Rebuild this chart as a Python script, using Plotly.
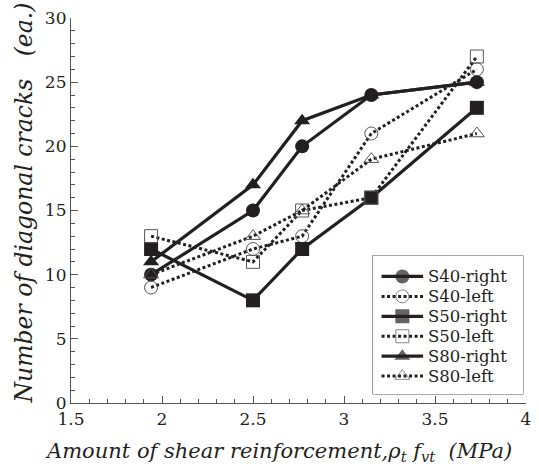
import plotly.graph_objects as go

# Shear reinforcement amount rho_t * f_vt (MPa) for each specimen group
x_vals = [1.94, 2.5, 2.77, 3.15, 3.73]

# Number of diagonal cracks counted on each side of the specimens
s40_right = [10, 15, 20, 24, 25]
s40_left = [9, 12, 13, 21, 26]
s50_right = [12, 8, 12, 16, 23]
s50_left = [13, 11, 15, 16, 27]
s80_right = [11, 17, 22, 24, 25]
s80_left = [10, 13, 15, 19, 21]

names = ["S40-right", "S40-left", "S50-right", "S50-left", "S80-right", "S80-left"]
series = [s40_right, s40_left, s50_right, s50_left, s80_right, s80_left]
symbols = ["circle", "circle-open", "square", "square-open", "triangle-up", "triangle-up-open"]
solid = [True, False, True, False, True, False]

INK = "#231f20"
GREY = "#555555"
FONT = "DejaVu Serif"


def styles(sym, is_solid):
    if is_solid:
        line = dict(color=INK, width=3.2, dash="solid")
        marker = dict(symbol=sym, size=14, color=INK, line=dict(width=0))
    else:
        line = dict(color=INK, width=3, dash="3px,2.5px")
        marker = dict(symbol=sym, size=13, color=GREY, line=dict(width=1, color=GREY))
    return line, marker


fig = go.Figure()
for name, ys, sym, is_solid in zip(names, series, symbols, solid):
    line, marker = styles(sym, is_solid)
    fig.add_trace(go.Scatter(x=x_vals, y=ys, name=name, mode="lines+markers",
                             line=line, marker=marker, showlegend=False))

# Legend box drawn on its own small axes: one row per series
LEG_X = [9, 30, 51]          # sample line start, marker, line end
for i, (name, sym, is_solid) in enumerate(zip(names, symbols, solid)):
    line, marker = styles(sym, is_solid)
    marker = dict(marker)
    marker["size"] = [0, marker["size"], 0]
    row = 21 + 20 * i
    fig.add_trace(go.Scatter(x=LEG_X, y=[row] * 3, mode="lines+markers",
                             line=line, marker=marker, xaxis="x2", yaxis="y2",
                             showlegend=False, hoverinfo="skip"))
    fig.add_annotation(x=54, y=row, xref="x2", yref="y2", text=name,
                       showarrow=False, xanchor="left", yanchor="middle",
                       font=dict(family=FONT, size=16.5, color=INK))

fig.add_shape(type="rect", xref="x2 domain", yref="y2 domain",
              x0=0, x1=1, y0=0, y1=1, line=dict(color=GREY, width=1),
              fillcolor="white", layer="below")

# Axis titles
fig.add_annotation(
    text="<i>Amount of shear reinforcement,ρ<sub>t</sub> f<sub>vt</sub>  (MPa)</i>",
    xref="paper", yref="paper", x=0.4565, y=-0.088, xanchor="center", yanchor="top",
    showarrow=False, font=dict(family=FONT, size=21, color=INK))
fig.add_annotation(
    text="<i>Number of diagonal cracks   (ea.)</i>", textangle=-90,
    xref="paper", yref="paper", x=-0.104, y=0.52, xanchor="center", yanchor="middle",
    showarrow=False, font=dict(family=FONT, size=23.5, color=INK))

axis_common = dict(
    showline=True, linecolor=GREY, linewidth=1.2,
    ticks="inside", ticklen=7, tickwidth=1, tickcolor=GREY,
    showgrid=False, zeroline=False, mirror=False,
    tickfont=dict(family=FONT, size=17, color=INK),
)

fig.update_xaxes(
    range=[1.5, 4], tickvals=[1.5, 2, 2.5, 3, 3.5, 4],
    ticktext=["1.5", "2", "2.5", "3", "3.5", "4"],
    minor=dict(dtick=0.1, ticks="inside", ticklen=4, tickcolor=GREY, tickwidth=1),
    **axis_common,
)
fig.update_yaxes(
    range=[0, 30], dtick=5,
    minor=dict(dtick=1, ticks="inside", ticklen=4, tickcolor=GREY, tickwidth=1),
    **axis_common,
)

fig.update_layout(
    width=539, height=474,
    margin=dict(l=71, r=8, t=17, b=71),
    plot_bgcolor="white", paper_bgcolor="white",
    xaxis2=dict(domain=[0.663, 0.9935], range=[0, 152], anchor="y2",
                visible=False, fixedrange=True),
    yaxis2=dict(domain=[0.0233, 0.383], range=[139, 0], anchor="x2",
                visible=False, fixedrange=True),
    showlegend=False,
)

fig.write_html("out.html")
